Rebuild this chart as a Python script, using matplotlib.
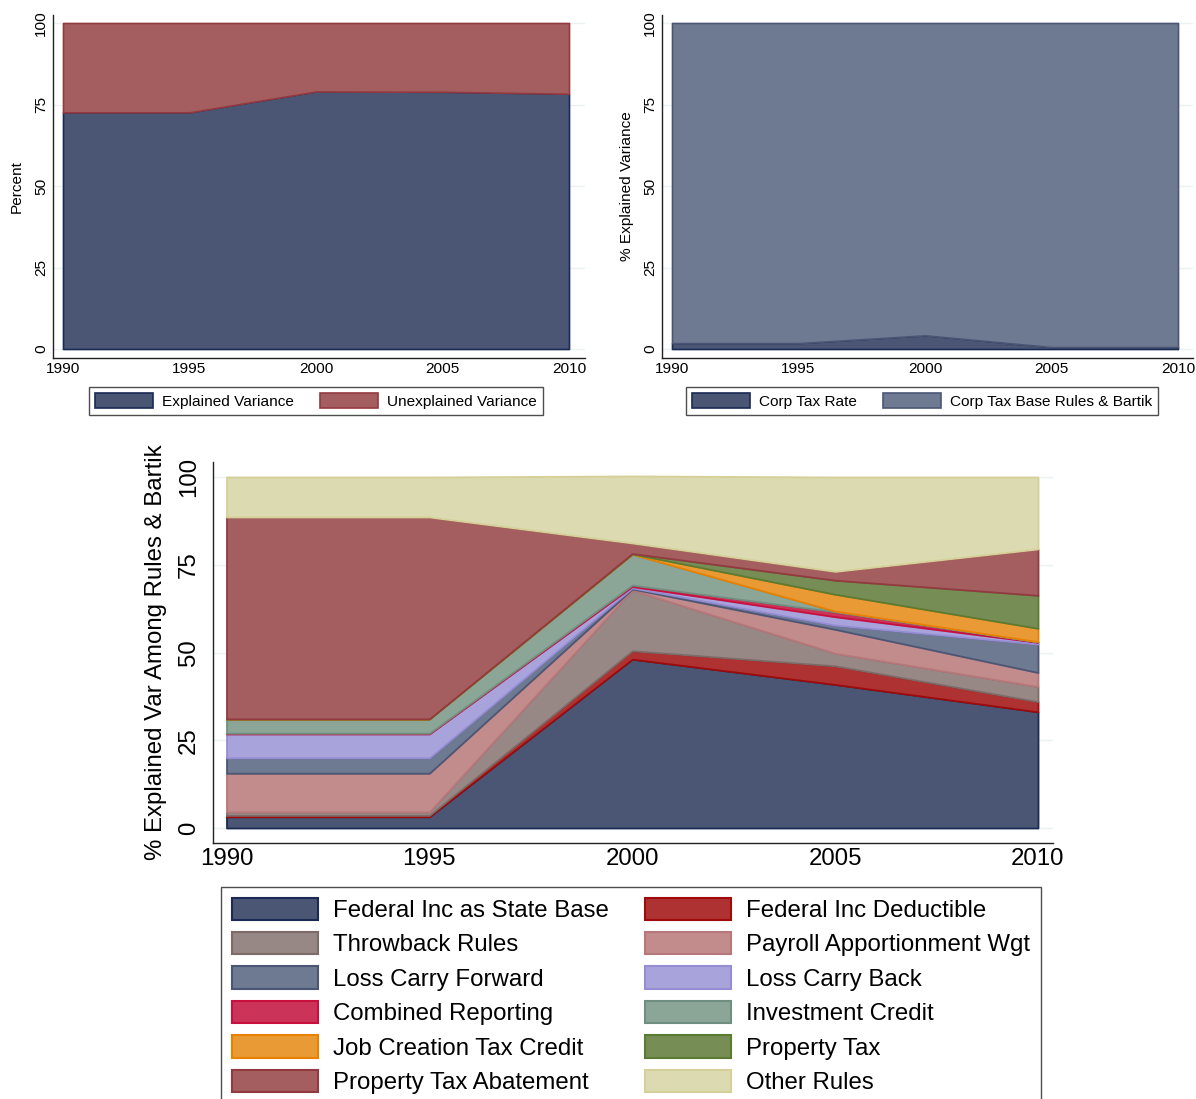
import matplotlib
matplotlib.use('Agg')
import matplotlib.pyplot as plt
import numpy as np
from matplotlib.patches import Patch

plt.rcParams['font.family'] = ['Liberation Sans', 'DejaVu Sans']

# ---------------- data ----------------
years = [1990, 1995, 2000, 2005, 2010]
year_ticks = [1990, 1995, 2000, 2005, 2010]
pct_ticks = [0, 25, 50, 75, 100]

# top-left panel
explained = [72.6, 72.6, 79.0, 78.9, 78.3]
unexplained = [27.4, 27.4, 21.0, 21.1, 21.7]

# top-right panel
corp_tax_rate = [1.8, 1.8, 4.2, 0.6, 0.6]
base_rules_bartik = [98.2, 98.2, 95.8, 99.4, 99.4]

# bottom panel (stacked bottom -> top)
fed_inc_base = [3.2, 3.2, 48.1, 40.9, 33.1]
fed_inc_deduct = [0.4, 0.4, 2.4, 5.3, 2.9]
throwback = [1.0, 1.0, 17.3, 3.6, 4.3]
payroll_wgt = [11.0, 11.0, 0.3, 6.8, 4.0]
loss_fwd = [4.4, 4.4, 0.3, 1.2, 8.1]
loss_back = [6.8, 6.8, 0.4, 2.4, 0.5]
combined_rep = [0.2, 0.2, 0.4, 1.4, 0.1]
invest_credit = [4.0, 4.0, 8.8, 0.2, 0.1]
job_credit = [0.1, 0.1, 0.1, 4.8, 3.8]
property_tax = [0.0, 0.0, 0.1, 4.0, 9.4]
prop_abatement = [57.5, 57.5, 3.0, 2.5, 13.2]
other_rules = [11.4, 11.4, 19.1, 26.9, 20.5]

bottom_labels = ["Federal Inc as State Base", "Federal Inc Deductible", "Throwback Rules",
                 "Payroll Apportionment Wgt", "Loss Carry Forward", "Loss Carry Back",
                 "Combined Reporting", "Investment Credit", "Job Creation Tax Credit",
                 "Property Tax", "Property Tax Abatement", "Other Rules"]
bottom_series = [fed_inc_base, fed_inc_deduct, throwback, payroll_wgt, loss_fwd, loss_back,
                 combined_rep, invest_credit, job_credit, property_tax, prop_abatement, other_rules]
bottom_fill = ['#4b5675', '#ae3232', '#978886', '#c28b8c', '#6e7a92', '#a9a3dc',
               '#cc3358', '#8ba597', '#ea9a35', '#768e55', '#a55e5f', '#dcdab0']
bottom_edge = ['#1a2a55', '#a00a0a', '#7d6b67', '#b8777a', '#4b5675', '#958cd4',
               '#c8103c', '#6f8f80', '#e88000', '#5b7a32', '#923a40', '#d5cf98']

W, H = 1196, 1099
fig = plt.figure(figsize=(W / 100, H / 100), dpi=100)

GRID = '#eaf2f3'


def make_ax(l, t, r, b, x0px, x1px, y0px, y100px, fs, ypad, xpad):
    ax = fig.add_axes([l / W, 1 - b / H, (r - l) / W, (b - t) / H])
    ppy = (x1px - x0px) / 20.0
    ax.set_xlim(1990 - (x0px - l) / ppy, 2010 + (r - x1px) / ppy)
    ppu = (y0px - y100px) / 100.0
    ax.set_ylim(-(b - y0px) / ppu, 100 + (y100px - t) / ppu)
    for s in ['top', 'right']:
        ax.spines[s].set_visible(False)
    for s in ['left', 'bottom']:
        ax.spines[s].set_color('#222222')
        ax.spines[s].set_linewidth(1.0)
    ax.set_xticks(year_ticks)
    ax.set_yticks(pct_ticks)
    ax.tick_params(axis='both', length=0, labelsize=fs, colors='black')
    ax.tick_params(axis='y', pad=ypad)
    ax.tick_params(axis='x', pad=xpad)
    for lab in ax.get_yticklabels():
        lab.set_rotation(90)
        lab.set_va('center')
    ax.grid(axis='y', color=GRID, linewidth=1.0)
    ax.set_axisbelow(True)
    return ax


def style_stack(polys, edges, lw=1.2):
    for p, e in zip(polys, edges):
        p.set_edgecolor(e)
        p.set_linewidth(lw)


# ---------- top-left ----------
fs_top = 11.05
ax1 = make_ax(53, 15, 585, 358, 63, 569, 349, 23, fs_top, 3.6, 3.0)
polys = ax1.stackplot(years, explained, unexplained, colors=['#4b5675', '#a55e5f'])
style_stack(polys, ['#1a2a55', '#923a40'])
ax1.set_ylabel('Percent', fontsize=fs_top)
ax1.yaxis.label.set_va('center')
ax1.yaxis.set_label_coords((17 - 53) / (585 - 53), 0.5)

h1 = [Patch(facecolor='#4b5675', edgecolor='#1a2a55', linewidth=1.2),
      Patch(facecolor='#a55e5f', edgecolor='#923a40', linewidth=1.2)]
leg_kw = dict(loc='upper left', ncol=2, frameon=True, fancybox=False, borderaxespad=0,
              handlelength=3.75, handleheight=1.08, handletextpad=0.6, borderpad=0.41,
              columnspacing=1.7, fontsize=fs_top)
leg1 = fig.legend(h1, ['Explained Variance', 'Unexplained Variance'],
                  bbox_to_anchor=(89 / W, 1 - 387 / H), **leg_kw)
leg1.get_frame().set_edgecolor('#222222')
leg1.get_frame().set_linewidth(1.0)

# ---------- top-right ----------
ax2 = make_ax(662, 15, 1193, 358, 672, 1178, 349, 23, fs_top, 3.6, 3.0)
polys = ax2.stackplot(years, corp_tax_rate, base_rules_bartik, colors=['#4b5675', '#6e7a92'])
style_stack(polys, ['#1a2a55', '#4b5675'])
ax2.set_ylabel('% Explained Variance', fontsize=fs_top)
ax2.yaxis.label.set_va('center')
ax2.yaxis.set_label_coords((627 - 662) / (1193 - 662), 0.5)

h2 = [Patch(facecolor='#4b5675', edgecolor='#1a2a55', linewidth=1.2),
      Patch(facecolor='#6e7a92', edgecolor='#4b5675', linewidth=1.2)]
leg2 = fig.legend(h2, ['Corp Tax Rate', 'Corp Tax Base Rules & Bartik'],
                  bbox_to_anchor=(686 / W, 1 - 387 / H), **leg_kw)
leg2.get_frame().set_edgecolor('#222222')
leg2.get_frame().set_linewidth(1.0)

# ---------- bottom ----------
fs_b = 17.3
ax3 = make_ax(212.5, 462, 1053, 842.7, 226.5, 1038, 828, 477, fs_b, 9, 4)
polys = ax3.stackplot(years, *bottom_series, colors=bottom_fill)
style_stack(polys, bottom_edge, lw=1.3)
ax3.set_ylabel('% Explained Var Among Rules & Bartik', fontsize=fs_b)
ax3.yaxis.label.set_va('center')
ax3.yaxis.set_label_coords((156 - 212.5) / (1053 - 212.5), 0.5)

handles = [Patch(facecolor=f, edgecolor=e, linewidth=1.5) for f, e in zip(bottom_fill, bottom_edge)]
# legend shown row-wise in two columns
order = [0, 2, 4, 6, 8, 10, 1, 3, 5, 7, 9, 11]
leg3 = fig.legend([handles[i] for i in order], [bottom_labels[i] for i in order],
                  loc='upper left', bbox_to_anchor=(221 / W, 1 - 887 / H), ncol=2,
                  frameon=True, fancybox=False, borderaxespad=0,
                  handlelength=3.6, handleheight=1.05, handletextpad=0.62, borderpad=0.44,
                  labelspacing=0.42, columnspacing=1.5, fontsize=fs_b)
leg3.get_frame().set_edgecolor('#222222')
leg3.get_frame().set_linewidth(1.0)

fig.savefig('out.png', dpi=100)
